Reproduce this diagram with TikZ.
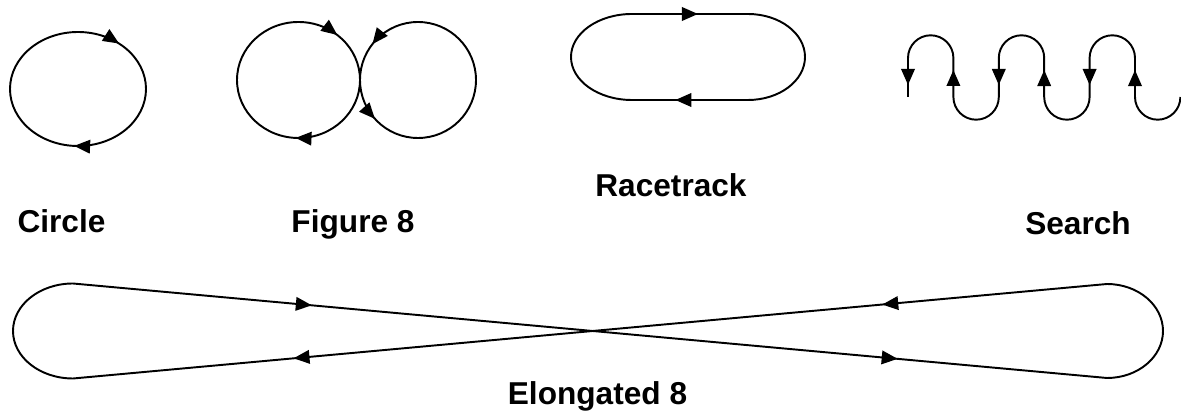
\documentclass[tikz,border=0pt]{standalone}
\usepackage{fontspec}
\setmainfont{Liberation Sans}
\usetikzlibrary{arrows.meta,decorations.markings}

\tikzset{
	track/.style={line width=1.1pt, line join=round},
	flow/.style={postaction={decorate, decoration={markings, mark=at position #1 with {\arrow{Triangle[length=0.32cm, width=0.27cm]}}}}},
	caption/.style={anchor=base, inner sep=0pt, font=\fontsize{18}{21.6}\selectfont\bfseries},
}

\begin{document}
\begin{tikzpicture}[x=0.02cm, y=-0.02cm]
	% Frame:
	\useasboundingbox (0, 0) rectangle (1181, 411);
	% Paths:
	\draw[track, flow/.list={0.11, 0.51}] (78, 32) arc[start angle=-90, end angle=270, x radius=68, y radius=57];
	\draw[track, flow/.list={0.111, 0.508}] (298.5, 22) arc[start angle=-90, end angle=270, x radius=61.5, y radius=58];
	\draw[track, flow/.list={0.144, 0.367}] (418, 22) arc[start angle=-90, end angle=-450, radius=58];
	\draw[track, flow/.list={0.119, 0.625}] (632, 14) -- (748, 14) arc[start angle=-90, end angle=90, x radius=57, y radius=43] -- (632, 100) arc[start angle=90, end angle=270, x radius=61, y radius=43] -- cycle;
	\draw[track, flow/.list={0.1485, 0.3152, 0.4818, 0.6485, 0.8152, 0.9818}] (1180.4, 97) arc[start angle=0, end angle=180, radius=22.7] -- (1135, 58) arc[start angle=0, end angle=-180, radius=22.7] -- (1089.6, 97) arc[start angle=0, end angle=180, radius=22.7] -- (1044.2, 58) arc[start angle=0, end angle=-180, radius=22.7] -- (998.8, 97) arc[start angle=0, end angle=180, radius=22.7] -- (953.4, 58) arc[start angle=0, end angle=-180, radius=22.7] -- (908, 97);
	% Elongated 8:
	\coordinate (lTop) at (73, 283.5);
	\coordinate (lBot) at (73, 378.5);
	\coordinate (rTop) at (1107, 284);
	\coordinate (rBot) at (1107, 378);
	\draw[track, flow/.list={0.0996, 0.3439, 0.5922, 0.8377}] (lTop) -- (rBot) arc[start angle=90, end angle=-90, x radius=56, y radius=47] -- (lBot) arc[start angle=90, end angle=270, x radius=60, y radius=47.5] -- cycle;
	% Labels:
	\node[caption] (circleLbl) at (61.5, 233) {Circle};
	\node[caption] (figureLbl) at (353, 233) {Figure 8};
	\node[caption] (raceLbl) at (671, 197) {Racetrack};
	\node[caption] (searchLbl) at (1078, 235) {Search};
	\node[caption] (elongLbl) at (597.5, 405) {Elongated 8};
\end{tikzpicture}
\end{document}
